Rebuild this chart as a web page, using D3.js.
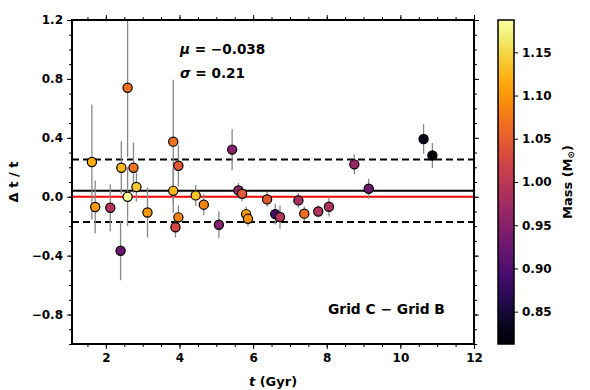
<!DOCTYPE html>
<html>
<head>
<meta charset="utf-8">
<script src="https://cdn.jsdelivr.net/npm/d3@7"></script>
<style>
  body { margin: 0; background: #fff; }
  text { font-family: "DejaVu Sans", sans-serif; font-weight: bold; }
</style>
</head>
<body>
<div class="grafico"></div>
<script>
// idade (Gyr), diferença relativa, erro, massa
var idade = [1.62, 1.71, 2.12, 2.40, 2.42, 2.59, 2.59, 2.75, 2.83, 3.13,
             3.83, 3.97, 3.83, 3.97, 3.89, 4.44, 4.66, 5.07, 5.43, 5.60,
             5.70, 5.81, 5.86, 6.38, 6.60, 6.73, 7.23, 7.39, 7.77, 8.06,
             8.75, 9.14, 10.63, 10.87];
var dtt = [0.236, -0.07, -0.075, -0.367, 0.197, 0.0, 0.74, 0.197, 0.066, -0.107,
           0.374, 0.21, 0.04, -0.14, -0.207, 0.009, -0.054, -0.19, 0.32, 0.043,
           0.02, -0.118, -0.15, -0.018, -0.118, -0.138, -0.025, -0.115, -0.10, -0.068,
           0.22, 0.054, 0.392, 0.28];
var erro = [0.39, 0.18, 0.16, 0.20, 0.18, 0.20, 0.47, 0.17, 0.10, 0.17,
            0.42, 0.14, 0.15, 0.08, 0.07, 0.07, 0.07, 0.09, 0.14, 0.05,
            0.05, 0.05, 0.05, 0.05, 0.07, 0.08, 0.05, 0.05, 0.04, 0.067,
            0.068, 0.068, 0.10, 0.085];
var massa = [1.12, 1.105, 0.99, 0.925, 1.125, 1.18, 1.07, 1.07, 1.14, 1.10,
             1.07, 1.045, 1.125, 1.085, 1.025, 1.135, 1.085, 0.95, 0.95, 0.96,
             1.045, 1.105, 1.095, 1.045, 0.887, 0.995, 0.985, 1.065, 0.99, 0.99,
             0.965, 0.925, 0.83, 0.815];

var media = 0.041, sigma = 0.212;
var xTicks = [2, 4, 6, 8, 10, 12];
var yTicks = [-0.8, -0.4, 0.0, 0.4, 0.8, 1.2];
var cTicks = [0.85, 0.90, 0.95, 1.00, 1.05, 1.10, 1.15];

var dados = idade.map(function(t, i){
  return {t: t, d: dtt[i], e: erro[i], m: massa[i]};
});

var width = 590, height = 390;
var esq = 72, dir = 474, topo = 20, base = 344;

var svg = d3.select(".grafico").append("svg")
  .attr("width", width).attr("height", height);

var x = d3.scaleLinear().domain([1.08, 12]).range([esq, dir]);
var y = d3.scaleLinear().domain([-1.0, 1.2]).range([base, topo]);
var cor = d3.scaleSequential(d3.interpolateInferno).domain([0.8126, 1.1874]);

var clip = svg.append("clipPath").attr("id", "clip")
  .append("rect").attr("x", esq).attr("y", topo).attr("width", dir - esq).attr("height", base - topo);

var plot = svg.append("g").attr("clip-path", "url(#clip)");

// linhas horizontais
plot.append("line").attr("x1", esq).attr("x2", dir)
  .attr("y1", y(0)).attr("y2", y(0)).attr("stroke", "red").attr("stroke-width", 2);
plot.append("line").attr("x1", esq).attr("x2", dir)
  .attr("y1", y(media)).attr("y2", y(media)).attr("stroke", "black").attr("stroke-width", 2);
[media + sigma, media - sigma].forEach(function(v){
  plot.append("line").attr("x1", esq).attr("x2", dir)
    .attr("y1", y(v)).attr("y2", y(v)).attr("stroke", "black").attr("stroke-width", 2)
    .attr("stroke-dasharray", "7,4");
});

// barras de erro
plot.selectAll(".err").data(dados).enter().append("line")
  .attr("x1", function(d){ return x(d.t); })
  .attr("x2", function(d){ return x(d.t); })
  .attr("y1", function(d){ return y(d.d - d.e); })
  .attr("y2", function(d){ return y(d.d + d.e); })
  .attr("stroke", "#888").attr("stroke-width", 1.3);

plot.selectAll("circle").data(dados).enter().append("circle")
  .attr("cx", function(d){ return x(d.t); })
  .attr("cy", function(d){ return y(d.d); })
  .attr("r", 4.6)
  .attr("fill", function(d){ return cor(d.m); })
  .attr("stroke", "black").attr("stroke-width", 1.2);

// eixos
function estilo(g){
  g.select(".domain").remove();
  g.selectAll(".tick line").attr("stroke", "black").attr("stroke-width", 1);
  g.selectAll(".tick text").attr("font-size", 12).attr("font-weight", "bold")
    .attr("font-family", "DejaVu Sans").attr("fill", "black");
}
var xMinor = d3.range(1.5, 12.01, 0.5);
var yMinor = d3.range(-1.0, 1.201, 0.1);

svg.append("g").attr("transform", "translate(0," + base + ")")
  .call(d3.axisBottom(x).tickValues(xTicks).tickFormat(d3.format("d")).tickSize(5).tickPadding(4)).call(estilo);
svg.append("g").attr("transform", "translate(0," + base + ")")
  .call(d3.axisBottom(x).tickValues(xMinor).tickFormat("").tickSize(3)).call(estilo);
svg.append("g").attr("transform", "translate(0," + topo + ")")
  .call(d3.axisTop(x).tickValues(xTicks).tickFormat("").tickSize(5)).call(estilo);
svg.append("g").attr("transform", "translate(0," + topo + ")")
  .call(d3.axisTop(x).tickValues(xMinor).tickFormat("").tickSize(3)).call(estilo);
svg.append("g").attr("transform", "translate(" + esq + ",0)")
  .call(d3.axisLeft(y).tickValues(yTicks).tickFormat(d3.format(".1f")).tickSize(5).tickPadding(4)).call(estilo);
svg.append("g").attr("transform", "translate(" + esq + ",0)")
  .call(d3.axisLeft(y).tickValues(yMinor).tickFormat("").tickSize(3)).call(estilo);
svg.append("g").attr("transform", "translate(" + dir + ",0)")
  .call(d3.axisRight(y).tickValues(yTicks).tickFormat("").tickSize(5)).call(estilo);
svg.append("g").attr("transform", "translate(" + dir + ",0)")
  .call(d3.axisRight(y).tickValues(yMinor).tickFormat("").tickSize(3)).call(estilo);

svg.append("rect").attr("x", esq).attr("y", topo).attr("width", dir - esq).attr("height", base - topo)
  .attr("fill", "none").attr("stroke", "black").attr("stroke-width", 2);

// textos
svg.append("text").attr("x", 180).attr("y", 54).attr("font-size", 13.6)
  .html('<tspan font-style="italic">μ</tspan> = −0.038');
svg.append("text").attr("x", 180).attr("y", 78).attr("font-size", 13.6)
  .html('<tspan font-style="italic">σ</tspan> = 0.21');
svg.append("text").attr("x", 328).attr("y", 314).attr("font-size", 13.8)
  .text("Grid C − Grid B");

svg.append("text").attr("x", (esq + dir) / 2).attr("y", 386).attr("text-anchor", "middle")
  .attr("font-size", 13)
  .html('<tspan font-style="italic">t</tspan> (Gyr)');
svg.append("text").attr("transform", "translate(18," + ((topo + base) / 2) + ") rotate(-90)")
  .attr("text-anchor", "middle").attr("font-size", 13)
  .text("Δ t / t");

// barra de cores
var cx0 = 498, cw = 16;
var cy = d3.scaleLinear().domain(cor.domain()).range([base, topo]);
var grad = svg.append("defs").append("linearGradient").attr("id", "grad")
  .attr("x1", 0).attr("y1", 1).attr("x2", 0).attr("y2", 0);
d3.range(0, 1.001, 0.05).forEach(function(s){
  grad.append("stop").attr("offset", s).attr("stop-color", d3.interpolateInferno(s));
});
svg.append("rect").attr("x", cx0).attr("y", topo).attr("width", cw).attr("height", base - topo)
  .attr("fill", "url(#grad)").attr("stroke", "black").attr("stroke-width", 1.5);
svg.append("g").attr("transform", "translate(" + (cx0 + cw) + ",0)")
  .call(d3.axisRight(cy).tickValues(cTicks).tickFormat(d3.format(".2f")).tickSize(4).tickPadding(4)).call(estilo);
svg.append("text").attr("transform", "translate(572," + ((topo + base) / 2) + ") rotate(-90)")
  .attr("text-anchor", "middle").attr("font-size", 13)
  .html('Mass (M<tspan font-size="9" dy="2">⊙</tspan><tspan dy="-2">)</tspan>');
</script>
</body>
</html>
